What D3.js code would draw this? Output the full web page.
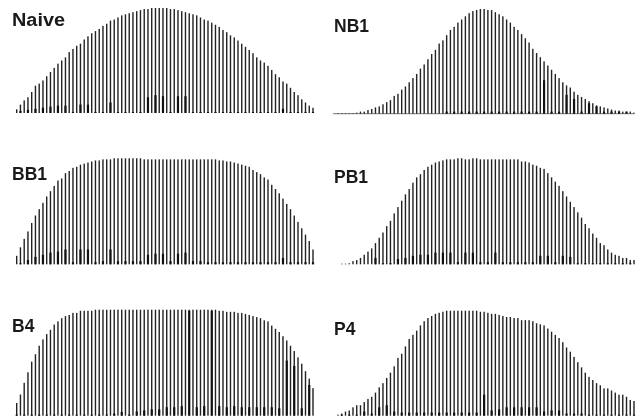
<!DOCTYPE html>
<html>
<head>
<meta charset="utf-8">
<style>
  html, body { margin: 0; padding: 0; background: #fff; }
  svg { display: block; filter: blur(0.3px); }
</style>
<script src="https://cdn.jsdelivr.net/npm/d3@7"></script>
</head>
<body>
<div id="graph"></div>
<script>
// peak heights, % of the tallest peak, one entry per peak
var naive = [3.5,8,12,15,20,26,28,31,35,39, 43,47,50,53,58,61,64,66,70,73,
  76,78,80,83,85,88,89,91,93,94, 95,96,97,98,99,99,100,100,100,100,
  100,99,99,98,97,96,95,94,93,91, 89,88,86,84,82,79,77,74,72,69,
  66,63,60,57,53,50,48,45,41,37, 34,30,28,24,20,17,13,10,7,5];
var naiveLow = [0,2,0,3,0,4,0,5,0,6, 0,7,0,7,0,1,0,8,0,8,
  0,1,0,1,0,10,0,1,0,1, 0,1,0,1,0,15,0,17,0,16,
  0,1,0,16,0,16,0,1,0,1, 0,1,0,1,0,1,0,1,0,1,
  0,1,0,1,0,1,0,1,0,1, 0,4,0,1,0,1,0,1,0,1];

var nb1 = [0.5,0.5,0.5,0.5,0.5,1,2,2,3.5,4.5, 6,7,9,11,13,17,19,23,26,30,
  34,38,43,47,52,57,61,67,70,75, 80,83,87,90,93,96,98,99,100,100,
  99,99,97,95,93,90,87,83,80,76, 72,68,62,58,54,50,46,42,38,34,
  30,27,25,21,18,16,14,12,10,8, 7,6,5,4,3,3,2,2,2,1];
var nb1Low = [0,0,0,0,0,0,0,0,0,0, 0,0,0,0,0,0,0,0,0,0,
  0,0,0,0,0,0,0,0,0,2, 0,2,0,2,0,2,0,2,0,2,
  0,2,0,2,0,2,0,2,0,2, 0,2,0,2,0,32,0,2,0,2,
  0,18,0,14,0,2,0,10,0,7, 0,2,0,2,0,2,0,2,0,0];

var bb1 = [8,16,24,31,39,46,52,58,64,69, 74,79,81,86,88,91,92,94,95,96,
  97,98,98,99,99,99,100,100,100,100, 100,100,100,100,99,99,99,99,99,99,
  99,99,99,99,99,99,99,99,99,99, 99,99,99,99,98,98,97,97,96,95,
  94,93,92,89,87,85,82,80,75,71, 67,62,57,52,46,40,34,28,22,14];
var bb1Low = [0,1,0,4,0,7,0,9,0,11, 0,12,0,14,0,2,0,14,0,14,
  0,2,0,3,0,14,0,3,0,3, 0,3,0,3,0,9,0,10,0,10,
  0,3,0,10,0,11,0,3,0,3, 0,2,0,2,0,2,0,2,0,2,
  0,2,0,2,0,2,0,2,0,2, 0,6,0,2,0,2,0,2,0,2];

var pb1 = [0,0.6,0.6,1,3,4,6,9,12,15, 20,25,30,36,41,48,54,60,66,71,
  77,82,85,89,92,94,96,97,98,99, 99,99,100,100,99,99,100,100,99,99,
  99,99,99,99,99,99,99,99,99,97, 97,96,94,93,91,90,86,82,78,74,
  69,64,59,54,49,44,38,34,29,25, 20,18,14,11,9,8,6,6,4,4];
var pb1Low = [0,0,0,0,0,0,0,0,0,0, 6,0,1,0,1,0,5,0,6,0,
  8,0,9,0,9,0,11,0,11,0, 11,0,2,0,11,0,11,0,2,0,
  2,0,11,0,2,0,2,0,2,0, 2,0,2,0,8,0,8,0,2,0,
  8,0,7,0,1,0,1,0,1,0, 1,0,1,0,1,0,1,0,1,0];

var b4 = [12,20,31,41,51,58,66,72,77,81, 86,89,92,94,95,97,97,99,99,99,
  99,100,100,100,100,100,100,100,100,100, 100,100,100,100,100,100,100,100,100,100,
  100,100,100,100,100,100,100,100,100,100, 100,100,100,100,99,99,98,98,98,97,
  97,96,95,94,93,92,90,89,85,82, 79,75,71,66,61,55,49,42,35,26];
var b4Low = [1,0,1,0,1,0,1,0,1,0, 1,0,1,0,1,0,1,0,1,0,
  1,0,1,0,1,0,2,0,3.5,0, 1,0,4,0,5,0,6,0,6,0,
  8,0,8,0,9,0,99,0,8,0, 9,0,99,0,9,0,8,0,9,0,
  8,0,8,0,8,0,8,0,8,0, 7,0,52,0,47,0,7,0,29,0];

var p4 = [1,2,4,5,8,10,10,13,16,18, 22,27,31,36,41,47,55,59,66,73,
  77,81,86,90,93,95,97,98,99,100, 100,100,100,100,100,100,100,100,99,99,
  98,97,97,96,95,94,94,93,93,91, 91,91,90,88,87,86,83,80,77,74,
  70,65,61,56,51,46,41,37,34,31, 29,26,26,24,22,20,20,18,15,14];
var p4Low = [0,1,0,1,0,1,0,4,0,2, 0,8,0,10,0,4,0,3,0,3,
  0,3,0,3,0,3,0,3,0,3, 0,3,0,3,0,3,0,3,0,20,
  0,5,0,6,0,8,0,8,0,8, 0,8,0,8,0,4,0,5,0,5,
  0,2,0,2,0,2,0,1,0,1, 0,1,0,1,0,1,0,1,0,1];

var labels = ["Naive", "NB1", "BB1", "PB1", "B4", "P4"];
var peaks = [naive, nb1, bb1, pb1, b4, p4];
var lowPeaks = [naiveLow, nb1Low, bb1Low, pb1Low, b4Low, p4Low];

// panel placement
var panels = [
  {x0: 16.7, x1: 313, base: 113,   h: 105,   lx: 12,  ly: 26, lw: 53},
  {x0: 338,  x1: 634, base: 113.7, h: 104.7, lx: 334, ly: 32, rule: true},
  {x0: 16.7, x1: 313, base: 264.3, h: 106,   lx: 12,  ly: 180},
  {x0: 338,  x1: 634, base: 264.3, h: 106,   lx: 334, ly: 183},
  {x0: 16.7, x1: 313, base: 415.7, h: 106,   lx: 12,  ly: 332},
  {x0: 338,  x1: 634, base: 415.7, h: 105,   lx: 334, ly: 335}
];

var svg = d3.select("#graph").append("svg")
  .attr("width", 641)
  .attr("height", 418);

panels.forEach(function(p, k) {
  var x = d3.scaleLinear().domain([0, naive.length - 1]).range([p.x0, p.x1]);
  var y = d3.scaleLinear().domain([0, 100]).range([p.base, p.base - p.h]);
  var g = svg.append("g");

  if (p.rule) {
    g.append("line")
      .attr("x1", p.x0 - 5).attr("x2", p.x1)
      .attr("y1", p.base).attr("y2", p.base)
      .style("stroke", "#777")
      .style("stroke-width", 1);
  }

  g.selectAll("rect.peak").data(peaks[k]).enter().append("rect")
    .attr("class", "peak")
    .attr("x", function(d, i) { return x(i) - 0.7; })
    .attr("y", function(d) { return y(d); })
    .attr("width", 1.4)
    .attr("height", function(d) { return y(0) - y(d); })
    .style("fill", "#222");

  g.selectAll("rect.low").data(lowPeaks[k]).enter().append("rect")
    .attr("class", "low")
    .attr("x", function(d, i) { return x(i) - 1.1; })
    .attr("y", function(d) { return y(d); })
    .attr("width", 2.2)
    .attr("height", function(d) { return y(0) - y(d); })
    .style("fill", "#111");

  var label = g.append("text")
    .attr("x", p.lx)
    .attr("y", p.ly)
    .text(labels[k])
    .style("font-family", "'Liberation Sans', Arial, sans-serif")
    .style("font-weight", "bold")
    .style("font-size", "17.5px")
    .style("fill", "#1a1a1a");
  if (p.lw) {
    label.attr("textLength", p.lw).attr("lengthAdjust", "spacingAndGlyphs");
  }
});
</script>
</body>
</html>
